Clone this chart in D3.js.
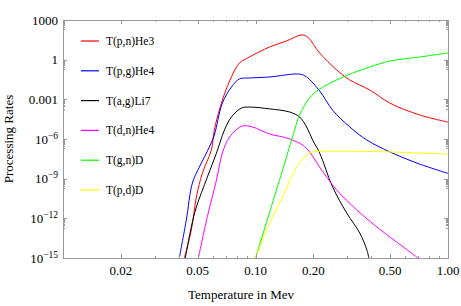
<!DOCTYPE html>
<html>
<head>
<meta charset="utf-8">
<script src="https://cdn.jsdelivr.net/npm/d3@7"></script>
<style>
  body { margin: 0; background: #fff; }
</style>
</head>
<body>
<svg width="461" height="306" font-family="'Liberation Serif', 'Times New Roman', 'DejaVu Serif', serif"></svg>
<script>
// temperatures (MeV) and rates, one pair of arrays per reaction
const tRed  = [0.0427, 0.0464, 0.0493, 0.0530, 0.0590, 0.0611, 0.0673, 0.075, 0.0826, 0.0931, 0.1183, 0.145, 0.1736, 0.1866, 0.2154, 0.264, 0.309, 0.393, 0.499, 0.714, 1.0];
const rRed  = [1e-15, 1.3e-13, 4.1e-11, 2.7e-9, 1.5e-7, 4.8e-6, 8.9e-4, 0.049, 0.56, 1.6, 9.1, 26, 74, 51, 3.2, 0.17, 0.029, 0.005, 5.2e-4, 6.5e-5, 1.9e-5];

const tBlue = [0.0402, 0.0437, 0.0470, 0.0511, 0.0576, 0.0611, 0.0673, 0.075, 0.0826, 0.0931, 0.1183, 0.1695, 0.1844, 0.2154, 0.2518, 0.309, 0.379, 0.499, 0.690, 1.0];
const rBlue = [1e-15, 7.4e-13, 4.7e-10, 7.6e-9, 2.5e-7, 2.0e-6, 5.2e-4, 8.5e-3, 0.035, 0.041, 0.049, 0.081, 0.049, 4.3e-3, 1.5e-4, 8.1e-6, 8.3e-7, 1.05e-7, 1.5e-8, 2.5e-9];

const tBlack = [0.0432, 0.0464, 0.0493, 0.0562, 0.0627, 0.069, 0.075, 0.0846, 0.0931, 0.1183, 0.1504, 0.1695, 0.1844, 0.198, 0.2154, 0.2518, 0.2978, 0.348, 0.379, 0.388];
const rBlack = [1e-15, 2.2e-13, 7.1e-12, 1.3e-9, 8.7e-8, 4.8e-6, 4.6e-5, 2.2e-4, 2.6e-4, 1.9e-4, 1.1e-4, 4.6e-5, 8.1e-6, 8.3e-7, 8.7e-8, 2.3e-10, 2.5e-12, 7.8e-14, 4e-15, 1e-15];

const tMagenta = [0.0505, 0.0562, 0.0627, 0.0673, 0.0733, 0.0855, 0.0965, 0.1183, 0.145, 0.1757, 0.191, 0.2154, 0.264, 0.336, 0.427, 0.542, 0.698];
const rMagenta = [1e-15, 1.3e-12, 7.9e-10, 8.7e-8, 1.4e-6, 9.5e-6, 8.1e-6, 2.4e-6, 1.2e-6, 3.5e-7, 1.05e-7, 7.6e-9, 1.4e-10, 4.3e-12, 2.2e-13, 1.6e-14, 1e-15];

const tGreen = [0.1, 0.1382, 0.1596, 0.1695, 0.191, 0.2154, 0.264, 0.320, 0.393, 0.499, 0.714, 1.0];
const rGreen = [1e-15, 4.5e-9, 4.8e-6, 6.5e-5, 1.3e-3, 6.0e-3, 0.029, 0.098, 0.28, 0.79, 1.6, 3.2];

const tYellow = [0.1, 0.1183, 0.1382, 0.1635, 0.1844, 0.198, 0.264, 0.499, 0.714, 1.0];
const rYellow = [1e-15, 4.4e-13, 4.1e-11, 7.6e-9, 6.2e-8, 1.05e-7, 1.2e-7, 1.05e-7, 8.7e-8, 7.2e-8];

const names = ["T(p,n)He3", "T(p,g)He4", "T(a,g)Li7", "T(d,n)He4", "T(g,n)D", "T(p,d)D"];

const xTicks = [0.02, 0.05, 0.1, 0.2, 0.5, 1];
const xTickLabels = ["0.02", "0.05", "0.10", "0.20", "0.50", "1.00"];
const yTicks = [1000, 1, 0.001, 1e-6, 1e-9, 1e-12, 1e-15];
const yTickLabels = ["1000", "1", "0.001", "10|\u22126", "10|\u22129", "10|\u221212", "10|\u221215"];

const colors = ["#ff0000", "#0000ff", "#000000", "#ff00ff", "#00ff00", "#ffff00"];
const series = [
    [tRed, rRed], [tBlue, rBlue], [tBlack, rBlack],
    [tMagenta, rMagenta], [tGreen, rGreen], [tYellow, rYellow]
].map((s, i) => ({ name: names[i], color: colors[i], pts: s[0].map((t, j) => [t, s[1][j]]) }));

const svg = d3.select("svg");
const plotL = 63, plotR = 448, plotT = 20, plotB = 258;
const frameColor = "#999";

const x = d3.scaleLog().domain([0.01, 1]).range([plotL, plotR]);
const y = d3.scaleLog().domain([1e-15, 1000]).range([plotB, plotT]);

// minor ticks
const xMinor = [];
[0.01, 0.1].forEach(p => { for (let k = 1; k <= 9; k++) xMinor.push(k * p); });
const yMinor = [];
yTicks.forEach(p => { for (let k = 2; k <= 9; k++) { const v = k * p / 10; if (v > 1e-15) yMinor.push(v); } });

svg.append("clipPath").attr("id", "clip")
    .append("rect").attr("x", plotL).attr("y", plotT)
    .attr("width", plotR - plotL).attr("height", plotB - plotT);

const line = d3.line()
    .x(d => x(d[0]))
    .y(d => y(d[1]))
    .curve(d3.curveCatmullRom.alpha(0.5));

svg.append("g").attr("clip-path", "url(#clip)")
    .selectAll("path")
    .data(series)
    .enter()
    .append("path")
    .attr("d", d => line(d.pts))
    .attr("fill", "none")
    .attr("stroke", d => d.color)
    .attr("stroke-width", 1);

// frame ticks, pointing inward
function tickLines(vals, scale, len, side) {
    const g = svg.append("g").attr("stroke", frameColor).attr("stroke-width", 1);
    vals.forEach(v => {
        const p = Math.round(scale(v)) + 0.5;
        if (side === "bottom") g.append("line").attr("x1", p).attr("x2", p).attr("y1", plotB).attr("y2", plotB - len);
        if (side === "top") g.append("line").attr("x1", p).attr("x2", p).attr("y1", plotT).attr("y2", plotT + len);
        if (side === "left") g.append("line").attr("y1", p).attr("y2", p).attr("x1", plotL).attr("x2", plotL + len);
        if (side === "right") g.append("line").attr("y1", p).attr("y2", p).attr("x1", plotR).attr("x2", plotR - len);
    });
}
["bottom", "top"].forEach(s => { tickLines(xTicks, x, 4, s); tickLines(xMinor, x, 2, s); });
["left", "right"].forEach(s => { tickLines(yTicks, y, 4, s); tickLines(yMinor, y, 2, s); });

svg.append("rect")
    .attr("x", plotL + 0.5).attr("y", plotT + 0.5)
    .attr("width", plotR - plotL).attr("height", plotB - plotT)
    .attr("fill", "none").attr("stroke", frameColor);

// tick labels
svg.append("g").selectAll("text")
    .data(xTicks)
    .enter()
    .append("text")
    .attr("x", d => x(d))
    .attr("y", 275)
    .attr("text-anchor", "middle")
    .attr("font-size", 13)
    .text((d, i) => xTickLabels[i]);

const yl = svg.append("g").selectAll("text")
    .data(yTicks)
    .enter()
    .append("text")
    .attr("x", 58)
    .attr("y", d => y(d) + 4.5)
    .attr("text-anchor", "end")
    .attr("font-size", 13);
yl.each(function(d, i) {
    const parts = yTickLabels[i].split("|");
    const t = d3.select(this);
    t.append("tspan").text(parts[0]);
    if (parts[1]) t.append("tspan").attr("dy", -5).attr("font-size", 9.5).text(parts[1]);
});

// axis titles
svg.append("text")
    .attr("x", 241).attr("y", 299)
    .attr("text-anchor", "middle")
    .attr("font-size", 13)
    .text("Temperature in Mev");

svg.append("text")
    .attr("transform", "translate(13,139) rotate(-90)")
    .attr("text-anchor", "middle")
    .attr("font-size", 13)
    .text("Processing Rates");

// legend
const leg = svg.append("g").selectAll("g")
    .data(series)
    .enter()
    .append("g")
    .attr("transform", (d, i) => `translate(81,${41 + i * 29.8})`);
leg.append("line")
    .attr("x1", 0).attr("x2", 18)
    .attr("stroke", d => d.color)
    .attr("stroke-width", 1.2);
leg.append("text")
    .attr("x", 25).attr("y", 4)
    .attr("font-size", 11.5)
    .text(d => d.name);
</script>
</body>
</html>
